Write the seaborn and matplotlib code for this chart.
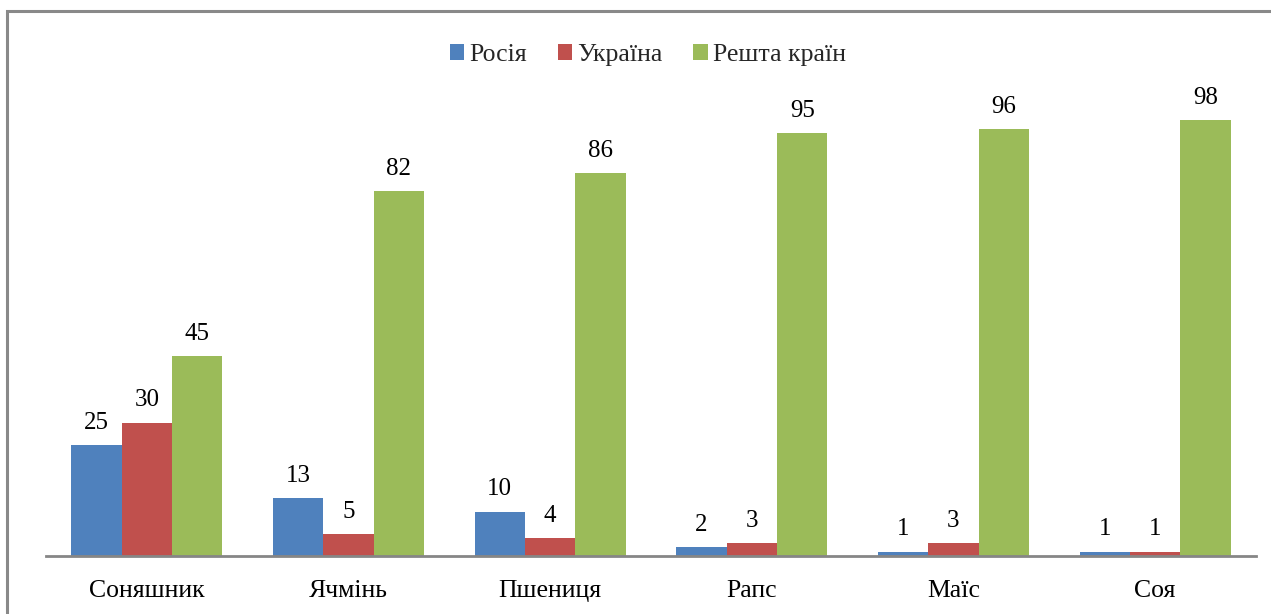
import matplotlib
matplotlib.use("Agg")
import matplotlib.pyplot as plt
import seaborn as sns
import pandas as pd
from matplotlib.patches import Rectangle

crops = ["Соняшник", "Ячмінь", "Пшениця", "Рапс", "Маїс", "Соя"]
russia = [25, 13, 10, 2, 1, 1]
ukraine = [30, 5, 4, 3, 3, 1]
rest = [45, 82, 86, 95, 96, 98]
series_names = ["Росія", "Україна", "Решта країн"]
colors = ["#4F81BD", "#C0504D", "#9BBB59"]

df = pd.DataFrame({
    "crop": crops * 3,
    "share": russia + ukraine + rest,
    "series": [series_names[0]] * 6 + [series_names[1]] * 6 + [series_names[2]] * 6,
})

sns.set_theme(style="white")
plt.rcParams["font.family"] = ["Liberation Serif", "DejaVu Serif"]

W, H = 1271, 614
fig = plt.figure(figsize=(W / 100, H / 100), dpi=100)
ax = fig.add_axes([46 / W, (H - 556) / H, 1210 / W, (556 - 90) / H])

sns.barplot(data=df, x="crop", y="share", hue="series", order=crops,
            hue_order=series_names, palette=colors, width=0.75,
            saturation=1, linewidth=0, edgecolor="none", ax=ax, legend=True)

for cont in ax.containers:
    ax.bar_label(cont, padding=8, fontsize=18, color="black")

ax.set_xlim(-0.5, 5.5)
ax.set_ylim(0, (556 - 90) / 4.45)
ax.set_xlabel("")
ax.set_ylabel("")
ax.set_yticks([])
for s in ["top", "right", "left"]:
    ax.spines[s].set_visible(False)
ax.spines["bottom"].set_color("#868686")
ax.spines["bottom"].set_linewidth(2)
ax.tick_params(axis="x", length=0, pad=17, labelsize=18.5, colors="black")

leg = ax.legend(loc="center", bbox_to_anchor=(648 / W, 1 - 55 / H),
                bbox_transform=fig.transFigure, ncol=3, frameon=False,
                fontsize=18.5, handlelength=0.55, handleheight=0.55,
                handletextpad=0.2, columnspacing=1.2)

fig.patches.append(Rectangle((7 / W, -0.05), 1.2, 1 - 11 / H + 0.05,
                             transform=fig.transFigure, fill=False,
                             edgecolor="#898989", linewidth=2.2))

fig.savefig("out.png", dpi=100)
